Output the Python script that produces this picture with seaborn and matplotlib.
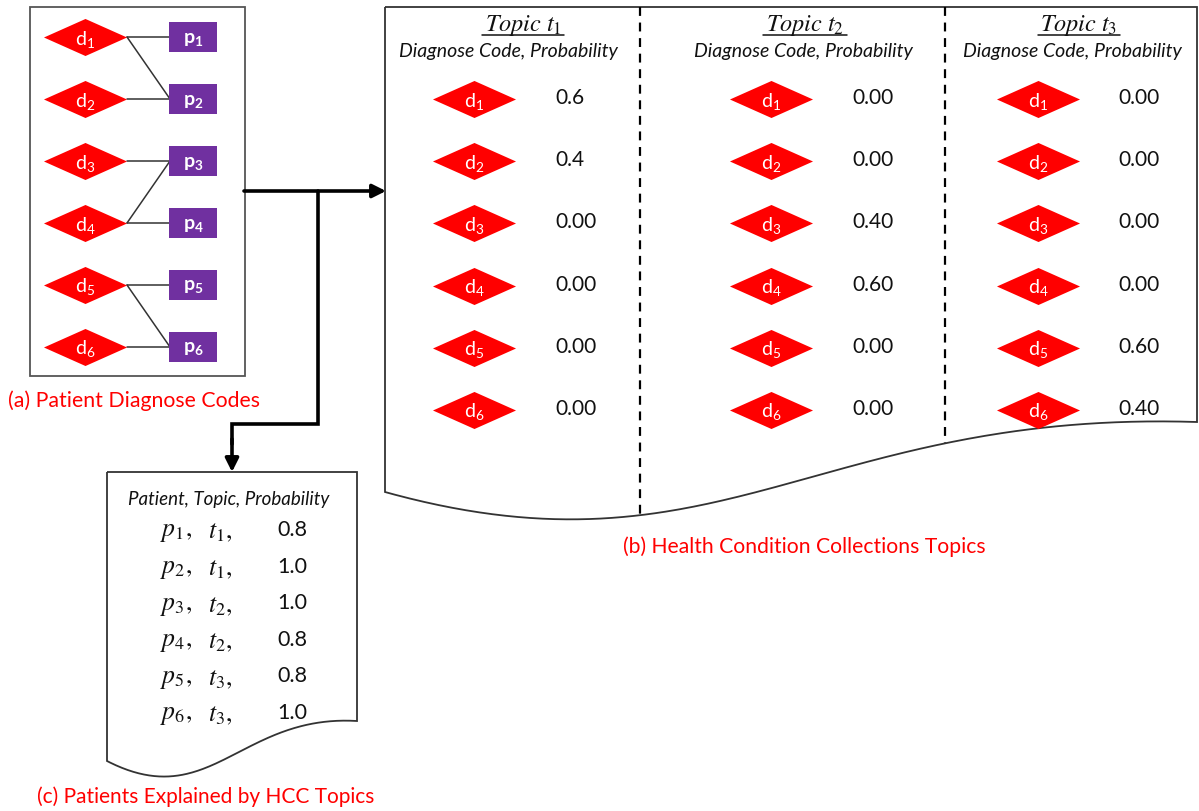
import numpy as np
import pandas as pd
import matplotlib.pyplot as plt
import seaborn as sns
from matplotlib.path import Path
from matplotlib.patches import PathPatch, Rectangle

# =========================================
# DATA
# =========================================

diag_ids = [1, 2, 3, 4, 5, 6]
patient_ids = [1, 2, 3, 4, 5, 6]

# diagnose code -> patient links in panel (a)
edge_diag = [1, 1, 2, 3, 4, 4, 5, 5, 6]
edge_patient = [1, 2, 2, 3, 3, 4, 5, 6, 6]

topic_ids = [1, 2, 3]
topic1_probs = ["0.6", "0.4", "0.00", "0.00", "0.00", "0.00"]
topic2_probs = ["0.00", "0.00", "0.40", "0.60", "0.00", "0.00"]
topic3_probs = ["0.00", "0.00", "0.00", "0.00", "0.60", "0.40"]

patient_topic = [1, 1, 2, 2, 3, 3]
patient_probs = ["0.8", "1.0", "1.0", "0.8", "0.8", "1.0"]

captions = ["(a) Patient Diagnose Codes",
            "(b) Health Condition Collections Topics",
            "(c) Patients Explained by HCC Topics"]

# =========================================
# STYLE
# =========================================

sns.set_theme(style="white")
plt.rcParams['font.family'] = ['Lato', 'DejaVu Sans']
plt.rcParams['mathtext.fontset'] = 'stix'

RED = "#FF0000"
PURPLE = "#7030A0"
INK = "#111111"

fig = plt.figure(figsize=(11.99, 8.12), dpi=100)
ax = fig.add_axes([0, 0, 1, 1])

# marker shapes
diamond = Path([(-0.5, 0), (0, 0.223), (0.5, 0), (0, -0.223), (-0.5, 0)],
               [Path.MOVETO, Path.LINETO, Path.LINETO, Path.LINETO, Path.CLOSEPOLY])
rect = Path([(-0.5, -0.32), (0.5, -0.32), (0.5, 0.32), (-0.5, 0.32), (-0.5, -0.32)],
            [Path.MOVETO, Path.LINETO, Path.LINETO, Path.LINETO, Path.CLOSEPOLY])
DIAMOND_S = 3575
RECT_S = 1150


def bezier(p0, p1, p2, p3, n=200):
    t = np.linspace(0, 1, n)[:, None]
    pts = ((1 - t) ** 3 * np.array(p0) + 3 * (1 - t) ** 2 * t * np.array(p1)
           + 3 * (1 - t) * t ** 2 * np.array(p2) + t ** 3 * np.array(p3))
    return pts


def label_d(x, y, i):
    ax.text(x, y + 1, r"$\mathregular{d_{%d}}$" % i, color="white",
            fontsize=14, ha="center", va="center", zorder=5)


# =========================================
# PANEL (a) PATIENT DIAGNOSE CODES
# =========================================

ax.add_patch(Rectangle((30, 8), 215, 369, fill=False, ec="#555555", lw=1.3))

row_a = {i: 38 + (i - 1) * 62 for i in diag_ids}
dx_a, px_a = 85, 193

for d, p in zip(edge_diag, edge_patient):
    ax.plot([dx_a + 42, px_a - 23], [row_a[d], row_a[p]],
            color="#333333", lw=1.1, zorder=2)

df_d = pd.DataFrame({"x": [dx_a] * len(diag_ids),
                     "y": [row_a[i] for i in diag_ids]})
sns.scatterplot(data=df_d, x="x", y="y", marker=diamond, s=DIAMOND_S,
                color=RED, linewidth=0, legend=False, ax=ax, zorder=3)
for i in diag_ids:
    label_d(dx_a, row_a[i], i)

df_p = pd.DataFrame({"x": [px_a] * len(patient_ids),
                     "y": [row_a[i] for i in patient_ids]})
sns.scatterplot(data=df_p, x="x", y="y", marker=rect, s=RECT_S,
                color=PURPLE, linewidth=0, legend=False, ax=ax, zorder=3)
for i in patient_ids:
    ax.text(px_a, row_a[i] + 1, r"$\mathregular{p_{%d}}$" % i, color="white",
            fontsize=14, fontweight="bold", ha="center", va="center", zorder=5)

ax.text(8, 401, captions[0], color=RED, fontsize=15.3, ha="left", va="center")

# =========================================
# CONNECTORS
# =========================================

ax.annotate("", xy=(386, 192), xytext=(244, 192),
            arrowprops=dict(arrowstyle="-|>", lw=2.6, color="black",
                            mutation_scale=20, shrinkA=0, shrinkB=0))
ax.plot([318, 318, 232, 232], [192, 425, 425, 445], color="black", lw=2.6,
        solid_joinstyle="miter")
ax.annotate("", xy=(232, 473), xytext=(232, 440),
            arrowprops=dict(arrowstyle="-|>", lw=2.6, color="black",
                            mutation_scale=20, shrinkA=0, shrinkB=0))

# =========================================
# PANEL (b) HEALTH CONDITION COLLECTIONS TOPICS
# =========================================

wave_b = bezier((1197, 423), (817, 411), (720, 586), (385, 493))
verts_b = np.vstack([[(385, 8), (1197, 8)], wave_b, [(385, 8)]])
ax.add_patch(PathPatch(Path(verts_b), fill=False, ec="#333333", lw=1.3))

wave_sorted = wave_b[np.argsort(wave_b[:, 0])]
for xd in [640, 945]:
    yb = np.interp(xd, wave_sorted[:, 0], wave_sorted[:, 1])
    ax.plot([xd, xd], [8, yb], color="black", lw=1.6, ls=(0, (4, 3)))

row_b = {i: 100 + (i - 1) * 62.2 for i in diag_ids}
topic_probs = [topic1_probs, topic2_probs, topic3_probs]
diam_x = [474, 771, 1038]
val_x = [555, 852, 1118]
title_x = [523, 805, 1079]
sub_x = [508, 803, 1072]

fig.canvas.draw()
renderer = fig.canvas.get_renderer()

for k, t in enumerate(topic_ids):
    df_t = pd.DataFrame({"x": [diam_x[k]] * len(diag_ids),
                         "y": [row_b[i] for i in diag_ids]})
    sns.scatterplot(data=df_t, x="x", y="y", marker=diamond, s=DIAMOND_S,
                    color=RED, linewidth=0, legend=False, ax=ax, zorder=3)
    for i, v in zip(diag_ids, topic_probs[k]):
        label_d(diam_x[k], row_b[i], i)
        ax.text(val_x[k], row_b[i] - 2, v, color=INK, fontsize=15,
                ha="left", va="center")

    title = ax.text(title_x[k], 25, r"$\mathit{Topic}\ t_{%d}$" % t,
                    color=INK, fontsize=17.5, ha="center", va="center")
    bb = title.get_window_extent(renderer).transformed(ax.transData.inverted())
    ax.plot([bb.x0, bb.x1], [36, 36], color=INK, lw=1.1)
    ax.text(sub_x[k], 52, "Diagnose Code, Probability", color=INK,
            fontsize=14, style="italic", ha="center", va="center")

ax.text(804, 547, captions[1], color=RED, fontsize=15.2, ha="center", va="center")

# =========================================
# PANEL (c) PATIENTS EXPLAINED BY HCC TOPICS
# =========================================

wave_c = bezier((357, 722), (240, 715), (210, 815), (107, 762))
verts_c = np.vstack([[(107, 473), (357, 473)], wave_c, [(107, 473)]])
ax.add_patch(PathPatch(Path(verts_c), fill=False, ec="#333333", lw=1.3))

ax.text(229, 500, "Patient, Topic, Probability", color=INK, fontsize=13.5,
        style="italic", ha="center", va="center")

for j, (p, t, v) in enumerate(zip(patient_ids, patient_topic, patient_probs)):
    y = 532 + j * 36.6
    ax.text(160, y, r"$p_{%d},$" % p, color=INK, fontsize=18.5,
            ha="left", va="center")
    ax.text(208, y, r"$t_{%d},$" % t, color=INK, fontsize=18.5,
            ha="left", va="center")
    ax.text(277, y - 2, v, color=INK, fontsize=15.5, ha="left", va="center")

ax.text(37, 797, captions[2], color=RED, fontsize=15, ha="left", va="center")

ax.set_xlim(0, 1199)
ax.set_ylim(812, 0)
ax.axis("off")

plt.savefig("out.png", dpi=100)
